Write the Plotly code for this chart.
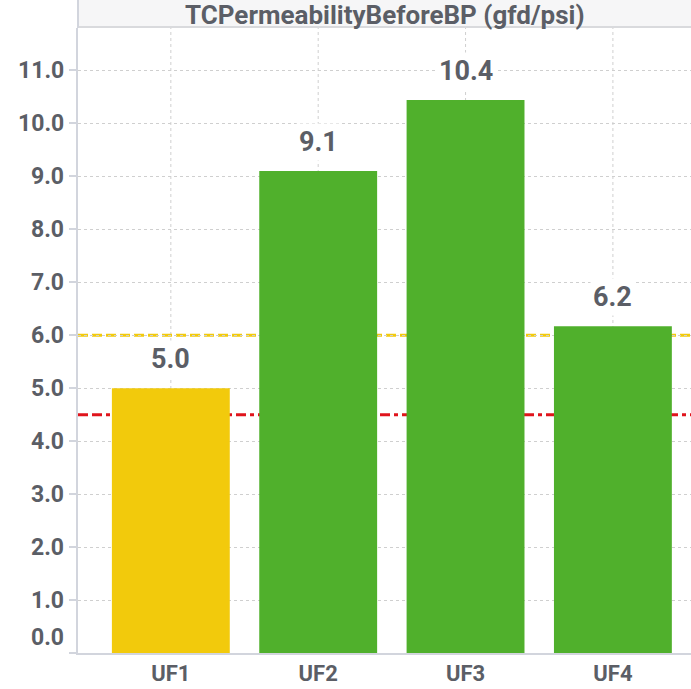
import plotly.graph_objects as go

categories = ["UF1", "UF2", "UF3", "UF4"]
values = [5.0, 9.1, 10.44, 6.17]
bar_colors = ["#f2ca0c", "#50b02c", "#50b02c", "#50b02c"]
ytick_vals = [0, 1, 2, 3, 4, 5, 6, 7, 8, 9, 10, 11]
ytick_text = ["0.0", "1.0", "2.0", "3.0", "4.0", "5.0", "6.0", "7.0", "8.0", "9.0", "10.0", "11.0"]
upper_threshold = 6.0
lower_threshold = 4.5
title_text = "TCPermeabilityBeforeBP (gfd/psi)"

FONT = "Roboto"
TXT = "#5b5e66"
AX = "#d2d5dd"
GRID = "#cfcfcf"

W, H = 691, 689
ML, MR, MT, MB = 78, 0, 28, 36
plot_h = H - MT - MB

fig = go.Figure()
fig.add_trace(go.Bar(
    x=categories, y=values, marker=dict(color=bar_colors, line=dict(width=0)),
    width=0.8, hoverinfo="skip", showlegend=False,
))

shapes = []
# header band
shapes.append(dict(type="rect", xref="paper", yref="paper", x0=0, x1=1, y0=1, y1=1 + MT / plot_h,
                   fillcolor="#f6f6f7", line=dict(width=0), layer="below"))
shapes.append(dict(type="line", xref="paper", yref="paper", x0=0, x1=1, y0=1 + 1 / plot_h, y1=1 + 1 / plot_h,
                   line=dict(color="#d9dadd", width=2)))
shapes.append(dict(type="line", xref="paper", yref="paper", x0=0, x1=0, y0=1, y1=1 + MT / plot_h,
                   line=dict(color=AX, width=2)))
# vertical gridlines at category centers
for c in categories:
    shapes.append(dict(type="line", xref="x", yref="paper", x0=c, x1=c, y0=0, y1=1,
                       line=dict(color=GRID, width=1, dash="dot"), layer="below"))
# category boundary ticks
for i in range(len(categories) + 1):
    xb = i - 0.5
    shapes.append(dict(type="line", xref="x", yref="y", x0=xb, x1=xb, ysizemode="pixel", yanchor=0,
                       y0=0, y1=-12, line=dict(color=AX, width=2)))
# thresholds
shapes.append(dict(type="line", xref="paper", yref="y", x0=0, x1=1, y0=upper_threshold, y1=upper_threshold,
                   line=dict(color="#f2ca0c", width=3, dash="10px,4px"), layer="below"))
shapes.append(dict(type="line", xref="paper", yref="y", x0=0, x1=1, y0=lower_threshold, y1=lower_threshold,
                   line=dict(color="#e0141c", width=3, dash="10px,4px,10px,4px,4px,4px"), layer="below"))

annotations = []
for c, v in zip(categories, values):
    annotations.append(dict(x=c, y=v, xref="x", yref="y", text=f"{v:.1f}", showarrow=False,
                            yanchor="bottom", yshift=10, bgcolor="white", borderpad=2,
                            font=dict(family=FONT, size=27, color=TXT, weight="bold")))
# y tick labels
for v, t in zip(ytick_vals, ytick_text):
    annotations.append(dict(x=0, y=v, xref="paper", yref="y", text=t, showarrow=False,
                            xanchor="right", xshift=-12, yshift=16 if v == 0 else 0,
                            font=dict(family=FONT, size=23, color=TXT, weight="bold")))
annotations.append(dict(x=0.5, y=1 + 1 / plot_h, xref="paper", yref="paper", text=title_text,
                        showarrow=False, yanchor="bottom", borderpad=0, yshift=-4,
                        font=dict(family=FONT, size=26, color=TXT, weight="bold")))

fig.update_layout(
    width=W, height=H, margin=dict(l=ML, r=MR, t=MT, b=MB, autoexpand=False),
    paper_bgcolor="white", plot_bgcolor="white",
    bargap=0.2, shapes=shapes, annotations=annotations,
    font=dict(family=FONT, color=TXT),
    xaxis=dict(type="category", range=[-0.63, 3.53], showgrid=False, ticks="",
               showline=True, linecolor=AX, linewidth=2, zeroline=False, automargin=False,
               tickfont=dict(family=FONT, size=22, color=TXT, weight="bold")),
    yaxis=dict(range=[0, 11.8], tickvals=ytick_vals, ticktext=["" for _ in ytick_vals],
               showgrid=True, gridcolor=GRID, griddash="dot", gridwidth=1, automargin=False,
               showline=True, linecolor=AX, linewidth=2, zeroline=False,
               ticks="outside", ticklen=7, tickcolor=AX, tickwidth=2),
)

fig.write_html("out.html", config={"displayModeBar": False},
               post_script="document.body.style.margin='0px';document.body.style.overflow='hidden';")
